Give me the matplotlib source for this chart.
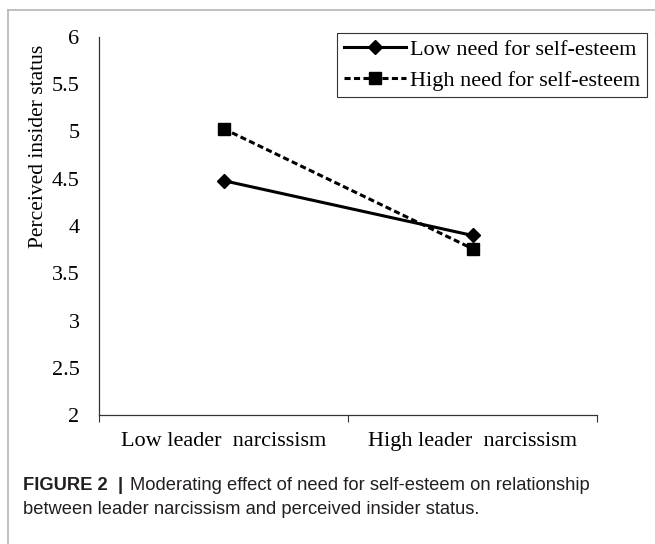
import matplotlib.pyplot as plt
from matplotlib.lines import Line2D

# data
categories = ['Low leader  narcissism', 'High leader  narcissism']
low_need = [4.48, 3.90]
high_need = [5.03, 3.76]
series_labels = ['Low need for self-esteem', 'High need for self-esteem']
yticks = [2, 2.5, 3, 3.5, 4, 4.5, 5, 5.5, 6]

W, H = 655, 544
fig = plt.figure(figsize=(W / 100, H / 100), dpi=100)
serif = 'Liberation Serif'
fs = 16

ax = fig.add_axes([99 / W, 1 - 415 / H, 498 / W, 378 / H])
x = list(range(len(categories)))
ax.plot(x, low_need, color='black', lw=2.2, marker='D', markersize=7,
        label=series_labels[0])
ax.plot(x, high_need, color='black', lw=2.2, dashes=(2.0, 1.1), marker='s',
        markersize=8, label=series_labels[1])

ax.set_xlim(-0.5, 1.5)
ax.set_ylim(2, 6)
ax.set_yticks(yticks)
ax.set_yticklabels([f'{v:g}' for v in yticks], fontfamily=serif, fontsize=fs)
ax.set_xticks(x)
ax.set_xticklabels(categories, fontfamily=serif, fontsize=fs)
ax.set_xticks([-0.5, 0.5, 1.5], minor=True)
ax.tick_params(axis='y', length=0, pad=14)
ax.tick_params(axis='x', which='major', length=0, pad=12)
ax.tick_params(axis='x', which='minor', length=5, width=0.8, direction='out', color='#333333')
for s in ['top', 'right']:
    ax.spines[s].set_visible(False)
for s in ['left', 'bottom']:
    ax.spines[s].set_color('#333333')
    ax.spines[s].set_linewidth(0.9)

fig.text(39 / W, 1 - 146 / H, 'Perceived insider status', rotation=90,
         ha='center', va='center', fontfamily=serif, fontsize=15.5)

leg = ax.legend(loc='upper right', bbox_to_anchor=(647 / W, 1 - 33 / H),
                bbox_transform=fig.transFigure, fancybox=False, edgecolor='#333333',
                framealpha=1, handlelength=2.8, handletextpad=0.2,
                borderpad=0.3, labelspacing=0.45, borderaxespad=0,
                prop={'family': serif, 'size': fs})
leg.get_frame().set_linewidth(0.8)

# outer frame of the figure panel
fig.add_artist(Line2D([8 / W, 1], [1 - 10 / H] * 2, transform=fig.transFigure,
                      color='#b5b5b5', lw=1.2))
fig.add_artist(Line2D([8 / W, 8 / W], [0, 1 - 10 / H], transform=fig.transFigure,
                      color='#b5b5b5', lw=1.2))

# caption
cap_font = ['Liberation Sans', 'DejaVu Sans']
cap_fs = 13.2
t1 = fig.text(23 / W, 1 - 486 / H, 'FIGURE 2  |', fontfamily=cap_font,
              fontweight='bold', fontsize=cap_fs, va='center', color='#231f20')
fig.canvas.draw()
bb = t1.get_window_extent()
fig.text((bb.x1 + 7) / W, 1 - 486 / H, 'Moderating effect of need for self-esteem on relationship',
         fontfamily=cap_font, fontsize=cap_fs, va='center', color='#231f20')
fig.text(23 / W, 1 - 509 / H, 'between leader narcissism and perceived insider status.',
         fontfamily=cap_font, fontsize=cap_fs, va='center', color='#231f20')

fig.savefig('out.png', dpi=100)
